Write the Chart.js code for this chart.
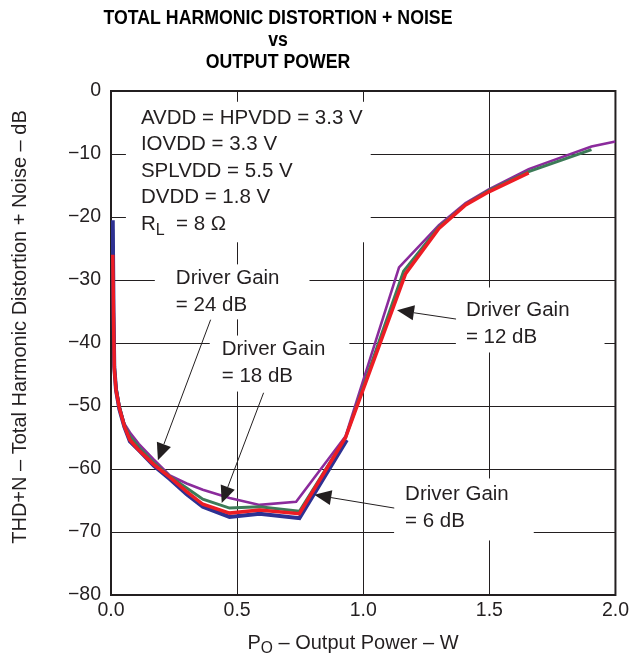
<!DOCTYPE html>
<html>
<head>
<meta charset="utf-8">
<script src="https://cdn.jsdelivr.net/npm/chart.js@4.4.1/dist/chart.umd.min.js"></script>
<style>
  html, body { margin: 0; padding: 0; background: #fff; }
  #wrap { width: 633px; height: 659px; }
</style>
</head>
<body>
<div id="wrap"><canvas id="thdChart" width="633" height="659"></canvas></div>
<script>
// output power (W) and THD+N (dB) for each driver gain
const gain6X  = [0.007, 0.01, 0.013, 0.02, 0.033, 0.053, 0.075, 0.11, 0.17, 0.233, 0.30, 0.364, 0.47, 0.589, 0.747, 0.935];
const gain6Y  = [-20.5, -35, -43.8, -47.5, -50.5, -53.3, -55.6, -57.0, -59.5, -61.6, -64.0, -66.0, -67.6, -67.1, -67.8, -55.4];

const gain12X = [0.007, 0.01, 0.013, 0.02, 0.033, 0.053, 0.075, 0.11, 0.17, 0.233, 0.30, 0.364, 0.47, 0.589, 0.747, 0.93, 1.168, 1.30, 1.406, 1.498, 1.656];
const gain12Y = [-26, -36, -44, -47.5, -50.3, -53.2, -55.4, -57.0, -59.3, -61.3, -63.6, -65.6, -67.0, -66.5, -67.1, -55.0, -29.0, -21.8, -18.1, -16.0, -13.0];

const gain18X = [0.007, 0.01, 0.013, 0.02, 0.033, 0.053, 0.075, 0.11, 0.17, 0.233, 0.30, 0.364, 0.47, 0.589, 0.747, 0.93, 1.16, 1.30, 1.406, 1.498, 1.656, 1.905];
const gain18Y = [-22, -35, -43.5, -47, -50, -53, -54.8, -56.5, -59, -61.2, -63, -64.8, -66.2, -66.0, -66.7, -55.0, -28.6, -21.6, -18.0, -15.8, -12.8, -9.3];

const gain24X = [0.007, 0.01, 0.013, 0.02, 0.033, 0.053, 0.075, 0.11, 0.17, 0.233, 0.30, 0.364, 0.47, 0.589, 0.734, 0.93, 1.142, 1.30, 1.406, 1.498, 1.656, 1.905, 2.0];
const gain24Y = [-24, -36, -44, -47, -50, -52.8, -54.2, -56, -58.5, -61.0, -62.3, -63.3, -64.6, -65.7, -65.2, -54.8, -28.0, -21.3, -17.8, -15.6, -12.4, -8.8, -8.0];

const titleLines = ['TOTAL HARMONIC DISTORTION + NOISE', 'vs', 'OUTPUT POWER'];
const xTitle = [['P'], ['O', 'sub'], [' \u2013 Output Power \u2013 W']];
const yTitle = 'THD+N \u2013 Total Harmonic Distortion + Noise \u2013 dB';

// text notes: anchor in data units, padding of the white box [left, right, top, bottom]
const notes = [
  { x: 0.1186, y: -4.29, lh: 26.5, pad: [15, 8, 3, 5], lines: [
    [['AVDD = HPVDD = 3.3 V']], [['IOVDD = 3.3 V']], [['SPLVDD = 5.5 V']], [['DVDD = 1.8 V']],
    [['R'], ['L', 'sub'], ['  = 8 \u03A9']] ] },
  { x: 0.257, y: -29.7, lh: 27.5, pad: [21, 30, 0, 0], lines: [[['Driver Gain']], [['= 24 dB']]] },
  { x: 0.439, y: -41.0, lh: 27.5, pad: [12, 24, 0, 1], lines: [[['Driver Gain']], [['= 18 dB']]] },
  { x: 1.407, y: -34.8, lh: 27.5, pad: [10, 35, 9, 1], lines: [[['Driver Gain']], [['= 12 dB']]] },
  { x: 1.166, y: -64.0, lh: 27.5, pad: [11, 25, 2, 5], lines: [[['Driver Gain']], [['= 6 dB']]] }
];

// arrows: start point then tip, in data units
const arrows = [
  [0.395, -36.3, 0.186, -58.6],
  [0.605, -47.9, 0.439, -65.4],
  [1.368, -36.2, 1.134, -34.8],
  [1.123, -66.2, 0.806, -64.1]
];

const FONT = '"Liberation Sans", Arial, Helvetica, sans-serif';
const INK = '#231f20';

function pts(xs, ys) {
  return xs.map((x, i) => ({ x: x, y: ys[i] }));
}

function drawRich(ctx, parts, x, y, size) {
  let cx = x;
  parts.forEach(p => {
    const sub = p[1] === 'sub';
    ctx.font = (sub ? size * 0.78 : size) + 'px ' + FONT;
    ctx.fillText(p[0], cx, sub ? y + size * 0.3 : y);
    cx += ctx.measureText(p[0]).width;
  });
  return cx - x;
}

function richWidth(ctx, parts, size) {
  let w = 0;
  parts.forEach(p => {
    ctx.font = (p[1] === 'sub' ? size * 0.78 : size) + 'px ' + FONT;
    w += ctx.measureText(p[0]).width;
  });
  return w;
}

const decor = {
  id: 'decor',
  beforeDatasetsDraw(chart) {
    const { ctx, chartArea: a, scales } = chart;
    const size = 20.5;
    ctx.save();
    ctx.textBaseline = 'middle';
    notes.forEach(n => {
      const px = scales.x.getPixelForValue(n.x);
      const py = scales.y.getPixelForValue(n.y);
      let w = 0;
      n.lines.forEach(l => { w = Math.max(w, richWidth(ctx, l, size)); });
      ctx.fillStyle = '#fff';
      ctx.fillRect(px - n.pad[0], py - n.lh / 2 - n.pad[2],
        w + n.pad[0] + n.pad[1], n.lines.length * n.lh + n.pad[2] + n.pad[3]);
      ctx.fillStyle = INK;
      n.lines.forEach((l, i) => drawRich(ctx, l, px, py + i * n.lh, size));
    });
    ctx.strokeStyle = INK;
    ctx.lineWidth = 2;
    ctx.strokeRect(a.left, a.top, a.right - a.left, a.bottom - a.top);
    ctx.restore();
  },
  afterDatasetsDraw(chart) {
    const { ctx, scales } = chart;
    ctx.save();
    ctx.strokeStyle = INK;
    ctx.fillStyle = INK;
    ctx.lineWidth = 1;
    arrows.forEach(r => {
      const x1 = scales.x.getPixelForValue(r[0]), y1 = scales.y.getPixelForValue(r[1]);
      const x2 = scales.x.getPixelForValue(r[2]), y2 = scales.y.getPixelForValue(r[3]);
      const ang = Math.atan2(y2 - y1, x2 - x1);
      const len = 17, half = 7.5;
      const bx = x2 - len * Math.cos(ang), by = y2 - len * Math.sin(ang);
      ctx.beginPath();
      ctx.moveTo(x1, y1);
      ctx.lineTo(bx, by);
      ctx.stroke();
      ctx.beginPath();
      ctx.moveTo(x2, y2);
      ctx.lineTo(bx + half * Math.sin(ang), by - half * Math.cos(ang));
      ctx.lineTo(bx - half * Math.sin(ang), by + half * Math.cos(ang));
      ctx.closePath();
      ctx.fill();
    });
    ctx.restore();
  },
  afterDraw(chart) {
    const { ctx } = chart;
    ctx.save();
    ctx.fillStyle = '#000';
    ctx.textBaseline = 'middle';
    ctx.textAlign = 'center';
    // title, squeezed to the width of the original
    ctx.font = 'bold 20px ' + FONT;
    const sx = 349 / ctx.measureText(titleLines[0]).width;
    const ty = [18, 40, 62];
    titleLines.forEach((t, i) => {
      ctx.save();
      ctx.translate(278, ty[i]);
      ctx.scale(sx, 1);
      ctx.fillText(t, 0, 0);
      ctx.restore();
    });
    // axis titles
    ctx.fillStyle = INK;
    ctx.textAlign = 'left';
    const xs = 20;
    const xw = richWidth(ctx, xTitle, xs);
    drawRich(ctx, xTitle, 353 - xw / 2, 643, xs);
    ctx.font = xs + 'px ' + FONT;
    ctx.textAlign = 'center';
    ctx.translate(20, 327);
    ctx.rotate(-Math.PI / 2);
    ctx.fillText(yTitle, 0, 0);
    ctx.restore();
  }
};

const tickFont = { size: 19.5, family: FONT };

const thdChart = new Chart(document.getElementById('thdChart').getContext('2d'), {
  type: 'scatter',
  data: {
    datasets: [
      { label: 'Driver Gain = 12 dB', data: pts(gain12X, gain12Y), borderColor: '#ed1c24', borderWidth: 3.5 },
      { label: 'Driver Gain = 6 dB', data: pts(gain6X, gain6Y), borderColor: '#2e3192', borderWidth: 4 },
      { label: 'Driver Gain = 18 dB', data: pts(gain18X, gain18Y), borderColor: '#3d7b58', borderWidth: 3 },
      { label: 'Driver Gain = 24 dB', data: pts(gain24X, gain24Y), borderColor: '#8b2b9c', borderWidth: 2.6 }
    ].map(d => Object.assign(d, { showLine: true, pointRadius: 0, tension: 0, fill: false }))
  },
  options: {
    responsive: false,
    devicePixelRatio: 1,
    animation: false,
    layout: { padding: { top: 91, right: 16, left: 0, bottom: 0 } },
    scales: {
      x: {
        type: 'linear',
        min: 0,
        max: 2,
        ticks: {
          stepSize: 0.5,
          color: INK,
          font: tickFont,
          padding: 4,
          callback: v => v.toFixed(1)
        },
        grid: { color: INK, lineWidth: 1, drawTicks: false },
        border: { display: true, color: INK, width: 2 },
        afterFit: s => { s.height = 64; }
      },
      y: {
        min: -80,
        max: 0,
        ticks: {
          stepSize: 10,
          color: INK,
          font: tickFont,
          padding: 10,
          callback: v => String(v).replace('-', '\u2212')
        },
        grid: { color: INK, lineWidth: 1, drawTicks: false },
        border: { display: true, color: INK, width: 2 },
        afterFit: s => { s.width = 111; }
      }
    },
    plugins: {
      legend: { display: false },
      title: { display: false },
      tooltip: { enabled: false }
    }
  },
  plugins: [decor]
});
</script>
</body>
</html>
